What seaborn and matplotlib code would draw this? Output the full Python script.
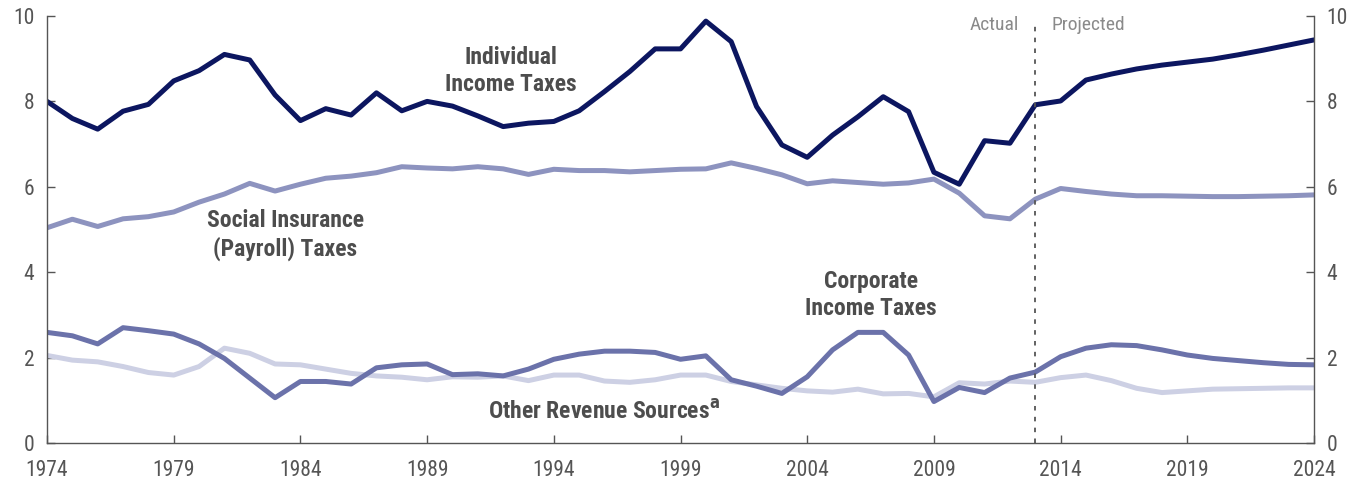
import numpy as np
import pandas as pd
import matplotlib
matplotlib.use("Agg")
import matplotlib.pyplot as plt
import seaborn as sns

years = list(range(1974, 2025))

individual = [8.0, 7.6, 7.35, 7.77, 7.93, 8.48, 8.72, 9.1, 8.97, 8.15,
              7.55, 7.83, 7.68, 8.2, 7.78, 8.0, 7.89, 7.66, 7.41, 7.49,
              7.53, 7.78, 8.23, 8.7, 9.23, 9.23, 9.88, 9.4, 7.88, 6.98,
              6.69, 7.21, 7.64, 8.11, 7.76, 6.34, 6.06, 7.08, 7.02, 7.92,
              8.01, 8.5, 8.64, 8.76, 8.85, 8.92, 8.99, 9.09, 9.2, 9.32, 9.44]

social = [5.04, 5.24, 5.07, 5.25, 5.3, 5.41, 5.64, 5.83, 6.08, 5.9,
          6.06, 6.2, 6.25, 6.33, 6.47, 6.44, 6.42, 6.47, 6.42, 6.29,
          6.41, 6.38, 6.38, 6.35, 6.38, 6.41, 6.42, 6.56, 6.43, 6.28,
          6.07, 6.14, 6.1, 6.06, 6.09, 6.18, 5.85, 5.32, 5.25, 5.71,
          5.96, 5.89, 5.83, 5.79, 5.79, 5.78, 5.77, 5.77, 5.78, 5.79, 5.81]

corporate = [2.59, 2.51, 2.32, 2.7, 2.63, 2.55, 2.32, 1.98, 1.52, 1.06,
             1.44, 1.44, 1.38, 1.76, 1.83, 1.85, 1.6, 1.62, 1.57, 1.73,
             1.96, 2.08, 2.15, 2.15, 2.12, 1.96, 2.04, 1.48, 1.33, 1.16,
             1.55, 2.18, 2.59, 2.59, 2.06, 0.97, 1.3, 1.18, 1.52, 1.66,
             2.02, 2.22, 2.3, 2.28, 2.18, 2.06, 1.98, 1.93, 1.88, 1.84, 1.83]

other = [2.05, 1.94, 1.9, 1.79, 1.65, 1.59, 1.79, 2.22, 2.1, 1.85,
         1.83, 1.73, 1.63, 1.57, 1.54, 1.48, 1.55, 1.54, 1.57, 1.46,
         1.59, 1.59, 1.45, 1.42, 1.48, 1.59, 1.59, 1.44, 1.36, 1.28,
         1.22, 1.19, 1.26, 1.15, 1.16, 1.08, 1.41, 1.38, 1.45, 1.42,
         1.53, 1.59, 1.46, 1.28, 1.18, 1.22, 1.26, 1.27, 1.28, 1.29, 1.29]

series_names = ["Individual", "Social", "Corporate", "Other"]
colors = {"Individual": "#0c1660", "Social": "#8d93bf",
          "Corporate": "#6b72aa", "Other": "#cdd0e4"}
xticks = [1974, 1979, 1984, 1989, 1994, 1999, 2004, 2009, 2014, 2019, 2024]
yticks = [0, 2, 4, 6, 8, 10]
divider_year = 2013

df = pd.concat([
    pd.DataFrame({"year": years, "value": vals, "series": name})
    for name, vals in zip(series_names, [individual, social, corporate, other])
])

sns.set_theme(style="ticks")
plt.rcParams["font.family"] = ["Roboto Condensed", "Liberation Sans Narrow",
                               "Open Sans Condensed", "Roboto", "DejaVu Sans"]
plt.rcParams["font.stretch"] = "condensed"

fig = plt.figure(figsize=(13.59, 4.82), dpi=100)
ax = fig.add_axes([0.0346, 0.081, 0.9323, 0.8858])

order = ["Other", "Social", "Corporate", "Individual"]
sns.lineplot(data=df, x="year", y="value", hue="series", hue_order=order,
             palette=colors, linewidth=3.6, legend=False, ax=ax,
             solid_capstyle="round", solid_joinstyle="round")

ax.set_xlim(1974, 2024)
ax.set_ylim(0, 10)
ax.set_xticks(xticks)
ax.set_yticks(yticks)
ax.set_xlabel("")
ax.set_ylabel("")

spine_col = "#555555"
ax.spines["top"].set_visible(False)
for s in ["left", "right", "bottom"]:
    ax.spines[s].set_color(spine_col)
    ax.spines[s].set_linewidth(1.0)

ax.tick_params(axis="both", direction="in", length=6, width=1.0,
               color=spine_col, labelcolor="#555555", labelsize=15.5)
ax.tick_params(axis="y", left=True, right=True, labelleft=True,
               labelright=True, pad=9)
ax.tick_params(axis="x", pad=12)

ax.axvline(divider_year, ymin=0, ymax=0.985, color="#555555",
           linewidth=1.3, linestyle=(0, (2.5, 3.5)))

ax.text(divider_year - 0.65, 9.8, "Actual", ha="right", va="center",
        fontsize=14, color="#8a8a8a")
ax.text(divider_year + 0.65, 9.8, "Projected", ha="left", va="center",
        fontsize=14, color="#8a8a8a")

lab = dict(fontsize=17, fontweight="bold", color="#4d4d4d",
           ha="center", va="center", linespacing=1.22)
ax.text(1992.3, 8.72, "Individual\nIncome Taxes", **lab)
ax.text(1983.4, 4.87, "Social Insurance\n(Payroll) Taxes", **lab)
ax.text(2006.5, 3.47, "Corporate\nIncome Taxes", **lab)
ax.text(1996.0, 0.72, r"Other Revenue Sources$^{\mathbf{a}}$", **lab)

fig.savefig("out.png", dpi=100)
